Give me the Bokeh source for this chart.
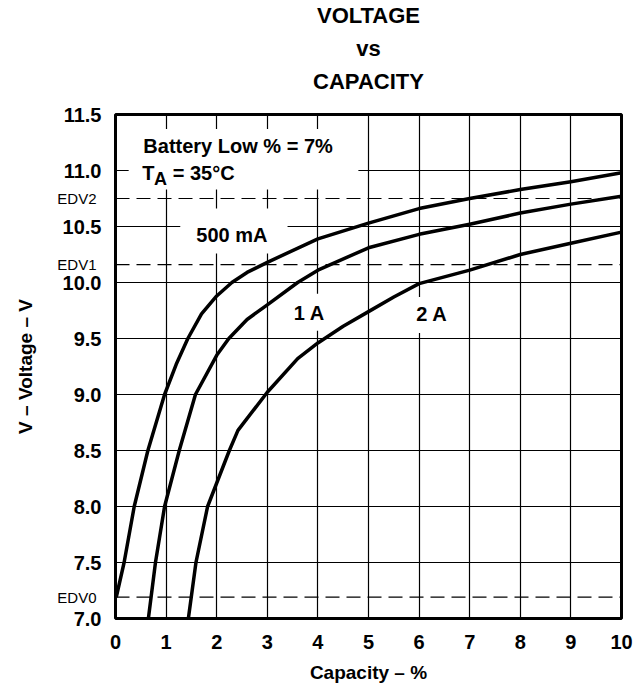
from bokeh.plotting import figure
from bokeh.models import (Range1d, FixedTicker, Span, Label, BoxAnnotation, PrintfTickFormatter,
                          LinearAxis, Title)
from bokeh.embed import file_html
from bokeh.resources import INLINE

# ---- data ----
cap_500mA = [0.02, 0.17, 0.37, 0.64, 0.97, 1.2, 1.43, 1.7, 2.0, 2.3, 2.6, 3.0, 4.0, 5.0, 6.0, 7.0, 8.0, 9.0, 10.0]
volt_500mA = [7.2, 7.5, 8.0, 8.5, 9.0, 9.27, 9.5, 9.72, 9.88, 10.0, 10.09, 10.18, 10.39, 10.53, 10.66, 10.75, 10.83, 10.90, 10.98]

cap_1A = [0.65, 0.79, 0.97, 1.26, 1.58, 2.0, 2.24, 2.6, 3.0, 3.6, 4.0, 5.0, 6.0, 7.0, 8.0, 9.0, 10.0]
volt_1A = [7.0, 7.5, 8.0, 8.5, 9.0, 9.35, 9.5, 9.67, 9.80, 10.0, 10.11, 10.31, 10.43, 10.52, 10.62, 10.70, 10.77]

cap_2A = [1.44, 1.59, 1.82, 2.25, 2.42, 3.0, 3.6, 4.0, 4.5, 5.0, 5.5, 6.0, 7.0, 8.0, 9.0, 10.0]
volt_2A = [7.0, 7.5, 8.0, 8.5, 8.68, 9.02, 9.32, 9.46, 9.61, 9.74, 9.87, 9.99, 10.11, 10.25, 10.35, 10.45]

edv_names = ["EDV0", "EDV1", "EDV2"]
edv_values = [7.19, 10.16, 10.75]

x_ticks = [0, 1, 2, 3, 4, 5, 6, 7, 8, 9, 10]
y_ticks = [7.0, 7.5, 8.0, 8.5, 9.0, 9.5, 10.0, 10.5, 11.0, 11.5]
y_tick_labels = ["7.0", "7.5", "8.0", "8.5", "9.0", "9.5", "10.0", "10.5", "11.0", "11.5"]

series_labels = ["500 mA", "1 A", "2 A"]
title_lines = ["VOLTAGE", "vs", "CAPACITY"]

FONT = "Liberation Sans"

p = figure(width=640, height=686,
           x_range=Range1d(0, 10), y_range=Range1d(7.0, 11.5),
           output_backend="svg", toolbar_location=None,
           min_border_left=115, min_border_right=19,
           min_border_top=113, min_border_bottom=68)
p.background_fill_color = "white"
p.border_fill_color = "white"
p.outline_line_color = "black"
p.outline_line_width = 3

p.xaxis.ticker = FixedTicker(ticks=x_ticks)
p.yaxis.ticker = FixedTicker(ticks=y_ticks)
p.yaxis.formatter = PrintfTickFormatter(format="%.1f")
p.yaxis.major_label_overrides = {float(t): s for t, s in zip(y_ticks, y_tick_labels)}


def style_axis(ax, size="20px", style="bold"):
    ax.axis_line_color = None
    ax.major_tick_line_color = None
    ax.minor_tick_line_color = None
    ax.major_tick_in = 0
    ax.major_tick_out = 0
    ax.minor_tick_in = 0
    ax.minor_tick_out = 0
    ax.major_label_text_font = FONT
    ax.major_label_text_font_size = size
    ax.major_label_text_font_style = style
    ax.major_label_text_color = "black"
    ax.axis_label_text_font = FONT
    ax.axis_label_text_font_size = "19px"
    ax.axis_label_text_font_style = "bold"
    ax.axis_label_text_color = "black"


style_axis(p.xaxis[0])
style_axis(p.yaxis[0])
p.xaxis.major_label_standoff = 16
p.yaxis.major_label_standoff = 14
p.xaxis.axis_label = "Capacity – %"
p.xaxis.axis_label_standoff = 10

# outer left axis carrying the EDV names and the axis title
edv_axis = LinearAxis(ticker=FixedTicker(ticks=edv_values),
                      major_label_overrides={float(v): n for v, n in zip(edv_values, edv_names)})
style_axis(edv_axis, size="15px", style="normal")
edv_axis.major_label_standoff = -37
edv_axis.axis_label = "V – Voltage – V"
edv_axis.axis_label_standoff = 18
p.add_layout(edv_axis, "left")

for g in (p.xgrid[0], p.ygrid[0]):
    g.grid_line_color = "black"
    g.grid_line_width = 1.2
    g.grid_line_alpha = 1.0

# white masks behind the in-plot texts (cut the grid like the reference)
for (l, r, b, t) in [(0.26, 4.8, 10.83, 11.37), (1.28, 3.40, 10.26, 10.66),
                     (3.36, 4.31, 9.57, 9.90), (5.77, 6.72, 9.55, 9.87)]:
    box = BoxAnnotation(left=l, right=r, bottom=b, top=t, fill_color="white", fill_alpha=1.0,
                        line_color=None, level="underlay")
    p.add_layout(box)

# EDV reference lines
for v in edv_values:
    p.add_layout(Span(location=v, dimension="width", line_color="black",
                      line_width=1.2, line_dash="14 7"))

# curves
for xs, ys in [(cap_500mA, volt_500mA), (cap_1A, volt_1A), (cap_2A, volt_2A)]:
    p.line(xs, ys, line_color="black", line_width=3.5, line_join="round", line_cap="round")


def lab(x, y, text, size="20px", style="bold", align="left", baseline="middle"):
    p.add_layout(Label(x=x, y=y, text=text, text_font=FONT, text_font_size=size,
                       text_font_style=style, text_color="black", text_align=align,
                       text_baseline=baseline))


# series labels
lab(2.3, 10.42, series_labels[0], align="center")
lab(3.83, 9.73, series_labels[1], align="center")
lab(6.25, 9.72, series_labels[2], align="center")

# conditions
lab(0.55, 11.22, "Battery Low % = 7%")
lab(0.53, 10.98, "T")
lab(0.76, 10.925, "A", size="18px")
lab(1.13, 10.98, "= 35°C")

# title: p.title is drawn outermost; added titles stack outward from the frame
p.title.text = title_lines[0]
p.title.align = "center"
p.title.text_font = FONT
p.title.text_font_size = "22px"
p.title.text_font_style = "bold"
p.title.text_color = "black"
p.title.standoff = 0
# blank spacer between the frame and the last title line
p.add_layout(Title(text=" ", align="center", text_font=FONT, text_font_size="10px",
                   text_color="white", standoff=8), "above")
for line, so in [(title_lines[2], 0), (title_lines[1], 12)]:
    p.add_layout(Title(text=line, align="center", text_font=FONT, text_font_size="22px",
                       text_font_style="bold", text_color="black", standoff=so), "above")

open("out.html", "w").write(file_html(p, INLINE))
